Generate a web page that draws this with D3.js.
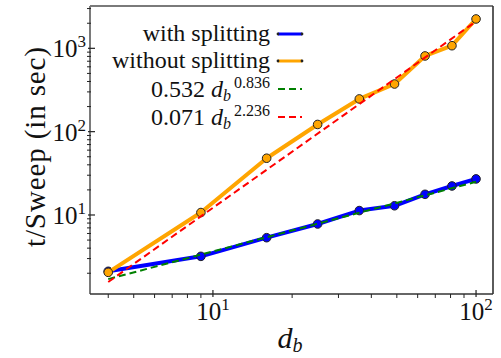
<!DOCTYPE html>
<html lang="en">
<head>
<script src="https://cdnjs.cloudflare.com/ajax/libs/d3/7.8.5/d3.min.js"></script>
<style>
  body { margin: 0; background: #fff; }
</style>
</head>
<body>
<svg id="chart" width="501" height="358"></svg>
<script>
// data
var dims = [4, 9, 16, 25, 36, 49, 64, 81, 100];
var withSplit = [2.11, 3.19, 5.34, 7.8, 11.3, 12.9, 17.7, 22.3, 27.1];
var withoutSplit = [2.05, 10.7, 48, 122, 247, 373, 810, 1075, 2250];
// fitted power laws, end points only (straight on log-log)
var fitDims = [4, 100];
var fitGreen = [1.70, 25.0];
var fitRed = [1.57, 2105];

var xMajor = [10, 100];
var xMinor = [4, 5, 6, 7, 8, 9, 20, 30, 40, 50, 60, 70, 80, 90];
var yMajor = [10, 100, 1000];
var yMinor = [2, 3, 4, 5, 6, 7, 8, 9, 20, 30, 40, 50, 60, 70, 80, 90,
              200, 300, 400, 500, 600, 700, 800, 900, 2000, 3000];

var pL = 90, pR = 493, pT = 6, pB = 294;
var serif = '"Liberation Serif", "Times New Roman", serif';

var svg = d3.select('#chart');

var x = d3.scaleLog().domain([3.41, 116]).range([pL, pR]);
var y = d3.scaleLog().domain([1.127, 3220]).range([pB, pT]);

// clip for plot
svg.append('clipPath').attr('id', 'clip')
  .append('rect').attr('x', pL).attr('y', pT)
  .attr('width', pR - pL).attr('height', pB - pT);

var plot = svg.append('g').attr('clip-path', 'url(#clip)');

var line = d3.line()
  .x(function (d) { return x(d[0]); })
  .y(function (d) { return y(d[1]); });

function drawSeries(vals, color, width) {
  var pts = d3.zip(dims, vals);
  plot.append('path').datum(pts)
    .attr('d', line)
    .attr('fill', 'none')
    .attr('stroke', color)
    .attr('stroke-width', width)
    .attr('stroke-linejoin', 'round');
  plot.selectAll(null).data(pts).enter().append('circle')
    .attr('cx', function (d) { return x(d[0]); })
    .attr('cy', function (d) { return y(d[1]); })
    .attr('r', 4.3)
    .attr('fill', color)
    .attr('stroke', '#222')
    .attr('stroke-width', 1);
}

drawSeries(withSplit, '#0000ff', 4);
drawSeries(withoutSplit, '#ffa500', 4);

function drawFit(vals, color) {
  plot.append('path').datum(d3.zip(fitDims, vals))
    .attr('d', line)
    .attr('fill', 'none')
    .attr('stroke', color)
    .attr('stroke-width', 2)
    .attr('stroke-dasharray', '7,4');
}
drawFit(fitGreen, '#008000');
drawFit(fitRed, '#ff0000');

// spines
svg.append('line').attr('x1', pL).attr('x2', pR).attr('y1', pT).attr('y2', pT)
  .attr('stroke', '#7a7a7a').attr('stroke-width', 2);
svg.append('line').attr('x1', pL).attr('x2', pL).attr('y1', pT).attr('y2', pB)
  .attr('stroke', '#7a7a7a').attr('stroke-width', 2);
svg.append('line').attr('x1', pL).attr('x2', pR).attr('y1', pB).attr('y2', pB)
  .attr('stroke', '#333').attr('stroke-width', 1.6);
svg.append('line').attr('x1', pR).attr('x2', pR).attr('y1', pT).attr('y2', pB)
  .attr('stroke', '#333').attr('stroke-width', 1.6);

// ticks
var ticks = svg.append('g').attr('stroke', '#222');
ticks.selectAll(null).data(xMajor).enter().append('line')
  .attr('x1', x).attr('x2', x).attr('y1', pB - 4).attr('y2', pB + 3)
  .attr('stroke-width', 1.2);
ticks.selectAll(null).data(xMinor).enter().append('line')
  .attr('x1', x).attr('x2', x).attr('y1', pB).attr('y2', pB + 4)
  .attr('stroke-width', 1);
ticks.selectAll(null).data(yMajor).enter().append('line')
  .attr('y1', y).attr('y2', y).attr('x1', pL - 2).attr('x2', pL + 5)
  .attr('stroke-width', 1.2);
ticks.selectAll(null).data(yMinor).enter().append('line')
  .attr('y1', y).attr('y2', y).attr('x1', pL - 3).attr('x2', pL + 1)
  .attr('stroke-width', 1);

function expLabel(sel) {
  sel.append('tspan').text('10');
  sel.append('tspan').attr('font-size', 17).attr('dy', -10)
    .text(function (d) { return Math.round(Math.log10(d)); });
}

svg.selectAll(null).data(xMajor).enter().append('text')
  .style('font-family', serif)
  .attr('x', x).attr('y', 320).attr('fill', '#111')
  .attr('text-anchor', 'middle').attr('font-size', 25)
  .call(expLabel);

svg.selectAll(null).data(yMajor).enter().append('text')
  .style('font-family', serif)
  .attr('x', 86).attr('y', function (d) { return y(d) + 9; }).attr('fill', '#111')
  .attr('text-anchor', 'end').attr('font-size', 25)
  .call(expLabel);

// axis titles
svg.append('text')
  .style('font-family', serif)
  .attr('transform', 'translate(45,147) rotate(-90)')
  .attr('text-anchor', 'middle').attr('font-size', 29).attr('fill', '#111')
  .attr('textLength', 200).attr('lengthAdjust', 'spacing')
  .text('t/Sweep (in sec)');

var xt = svg.append('text').style('font-family', serif)
  .attr('x', 290).attr('y', 348).attr('fill', '#111')
  .attr('text-anchor', 'middle').attr('font-size', 30);
xt.append('tspan').attr('font-style', 'italic').text('d');
xt.append('tspan').attr('font-style', 'italic').attr('font-size', 20).attr('dy', 4).text('b');

// legend
var legRows = [
  { color: '#0000ff', dash: null },
  { color: '#ffa500', dash: null },
  { color: '#008000', dash: '7,4' },
  { color: '#ff0000', dash: '7,4' }
];
var legY = [34, 61, 89, 117];
var legBase = [41, 68, 97, 125];

legRows.forEach(function (r, i) {
  var g = svg.append('g');
  g.append('line').attr('x1', 278).attr('x2', 302).attr('y1', legY[i]).attr('y2', legY[i])
    .attr('stroke', r.color).attr('stroke-width', r.dash ? 2 : 3)
    .attr('stroke-dasharray', r.dash);
  if (!r.dash) {
    [278, 302].forEach(function (px) {
      g.append('circle').attr('cx', px).attr('cy', legY[i]).attr('r', 1.4).attr('fill', '#222');
    });
  }
});

var legFont = 24;
svg.append('text').style('font-family', serif)
  .attr('x', 270).attr('y', legBase[0]).attr('text-anchor', 'end')
  .attr('font-size', legFont).attr('fill', '#111').text('with splitting');
svg.append('text').style('font-family', serif)
  .attr('x', 270).attr('y', legBase[1]).attr('text-anchor', 'end')
  .attr('font-size', legFont).attr('fill', '#111').text('without splitting');

function fitLabel(row, coef, expo) {
  var t = svg.append('text').style('font-family', serif)
    .attr('x', 270).attr('y', legBase[row]).attr('fill', '#111')
    .attr('text-anchor', 'end').attr('font-size', legFont);
  t.append('tspan').text(coef + ' ');
  t.append('tspan').attr('font-style', 'italic').text('d');
  t.append('tspan').attr('font-style', 'italic').attr('font-size', 16).attr('dy', 4).text('b');
  t.append('tspan').attr('font-size', 16).attr('dy', -13).attr('dx', 3).text(expo);
}
fitLabel(2, '0.532', '0.836');
fitLabel(3, '0.071', '2.236');
</script>
</body>
</html>
